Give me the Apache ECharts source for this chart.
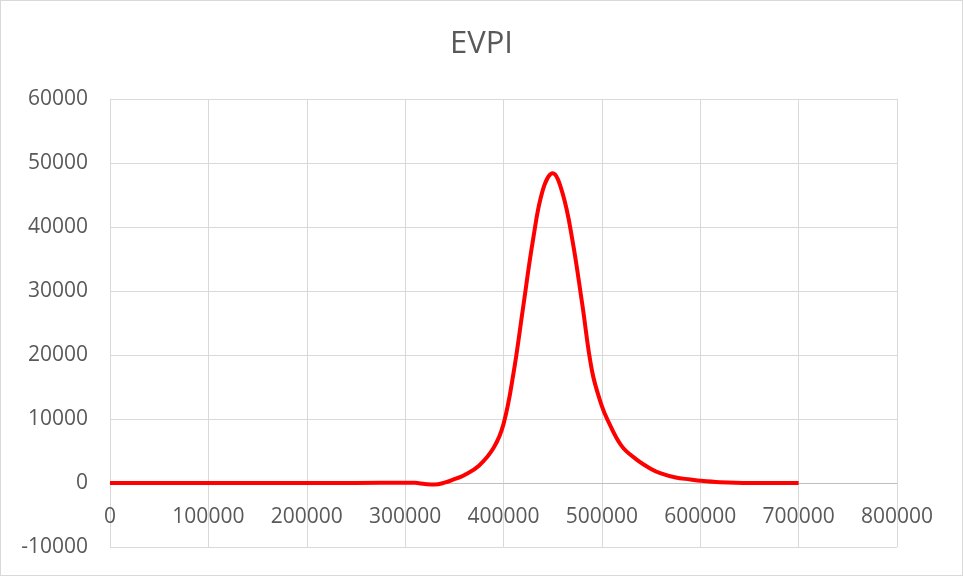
<!DOCTYPE html>
<html>
<head>
<meta charset="utf-8">
<script src="https://cdn.jsdelivr.net/npm/echarts@6/dist/echarts.min.js"></script>
<style>
  html, body { margin: 0; padding: 0; background: #fff; }
  #chart { width: 963px; height: 576px; box-sizing: border-box; border: 1px solid #d9d9d9; }
</style>
</head>
<body>
<div id="chart"></div>
<script>
// EVPI curve
const xValues = [0, 50000, 100000, 150000, 200000, 250000, 300000, 310000, 320000, 330000,
  340000, 350000, 360000, 375000, 390000, 400000, 410000, 420000, 430000, 440000,
  450000, 460000, 470000, 480000, 490000, 500000, 506000, 520000, 535000, 550000,
  560000, 575000, 590000, 600000, 620000, 650000, 700000];
const evpi = [0, 0, 0, 0, 0, 0, 50, 20, -150, -250,
  50, 600, 1200, 2700, 5500, 9200, 17000, 27500, 38000, 45800,
  48400, 45300, 38000, 28000, 17500, 12000, 9800, 5800, 3700, 2200,
  1500, 850, 550, 350, 120, 0, 0];

const textColor = "#595959";
const font = "'Open Sans', 'Liberation Sans', sans-serif";
const yMin = -10000, yMax = 60000;
// div is 963x576 with a 1px border, so the canvas is 961x574
const gridTop = 98, gridBottom = 28;
// pixel distance from the plot bottom up to the zero line, so the x axis crosses at 0
const zeroOffset = ((0 - yMin) / (yMax - yMin)) * (574 - gridTop - gridBottom);

const chart = echarts.init(document.getElementById("chart"), null, { renderer: "canvas" });
chart.setOption({
  animation: false,
  title: {
    text: "EVPI",
    left: "center",
    top: 23,
    textStyle: { color: textColor, fontSize: 31, fontWeight: "normal", fontFamily: font },
  },
  grid: { left: 109, right: 65, top: gridTop, bottom: gridBottom, containLabel: false, outerBoundsMode: "none" },
  xAxis: {
    type: "value",
    min: 0,
    max: 800000,
    interval: 100000,
    position: "bottom",
    offset: -zeroOffset,
    axisLine: { show: true, onZero: false, lineStyle: { color: "#bfbfbf", width: 1 } },
    axisTick: { show: false },
    axisLabel: { color: textColor, fontSize: 21, fontFamily: font, margin: 24, formatter: (v) => String(v) },
    splitLine: { show: true, lineStyle: { color: "#d9d9d9", width: 1 } },
  },
  yAxis: {
    type: "value",
    min: yMin,
    max: yMax,
    interval: 10000,
    axisLine: { show: false },
    axisTick: { show: false },
    axisLabel: { color: textColor, fontSize: 21, fontFamily: font, margin: 22, formatter: (v) => String(v) },
    splitLine: { show: true, lineStyle: { color: "#d9d9d9", width: 1 } },
  },
  series: [
    {
      type: "line",
      data: xValues.map((x, i) => [x, evpi[i]]),
      smooth: 0.4,
      symbol: "none",
      lineStyle: { color: "#ff0000", width: 4 },
    },
  ],
});
</script>
</body>
</html>
